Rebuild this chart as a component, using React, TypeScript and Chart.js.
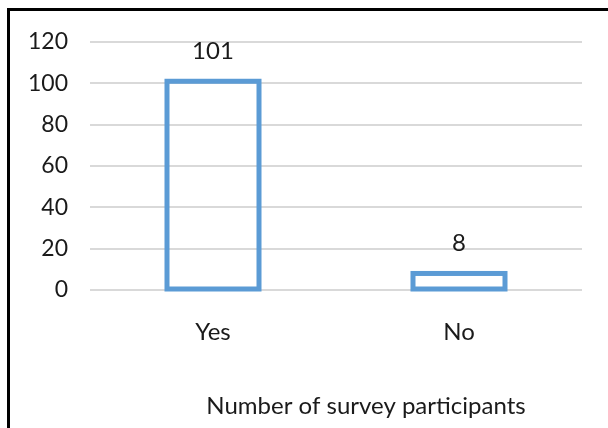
import React, { useEffect, useRef } from "react";
import { Chart, registerables } from "chart.js";

Chart.register(...registerables);

const categories = ["Yes", "No"];
const participants = [101, 8];
const yTicks = [0, 20, 40, 60, 80, 100, 120];
const axisCaption = "Number of survey participants";

const FONT = "Lato, 'Open Sans', sans-serif";
const TEXT = "#1a1a1a";
const BAR_STROKE = "#5b9bd5";

// Outline each bar with a stroke centred on its edges (hollow bars)
const hollowBars = {
  id: "hollowBars",
  afterDatasetsDraw(chart: any) {
    const ctx = chart.ctx;
    const meta = chart.getDatasetMeta(0);
    ctx.save();
    ctx.strokeStyle = BAR_STROKE;
    ctx.lineWidth = 5;
    ctx.lineJoin = "miter";
    meta.data.forEach((bar: any) => {
      const { x, y, base, width } = bar.getProps(["x", "y", "base", "width"], true);
      ctx.strokeRect(x - width / 2, y, width, base - y);
    });
    ctx.restore();
  },
};

// Value labels above each bar
const valueLabels = {
  id: "valueLabels",
  afterDatasetsDraw(chart: any) {
    const ctx = chart.ctx;
    const meta = chart.getDatasetMeta(0);
    ctx.save();
    ctx.font = `24px ${FONT}`;
    ctx.fillStyle = TEXT;
    ctx.textAlign = "center";
    ctx.textBaseline = "middle";
    meta.data.forEach((bar: any, i: number) => {
      ctx.fillText(String(participants[i]), bar.x, bar.y - 30);
    });
    ctx.restore();
  },
};

// Caption under the category axis
const captionPlugin = {
  id: "caption",
  afterDraw(chart: any) {
    const ctx = chart.ctx;
    ctx.save();
    ctx.font = `24px ${FONT}`;
    ctx.fillStyle = TEXT;
    ctx.textAlign = "center";
    ctx.textBaseline = "middle";
    ctx.fillText(axisCaption, 366, 406);
    ctx.restore();
  },
};

export default function App() {
  const ref = useRef<HTMLCanvasElement>(null);

  useEffect(() => {
    document.body.style.margin = "0";
    const chart = new Chart(ref.current!, {
      type: "bar",
      data: {
        labels: categories,
        datasets: [
          {
            data: participants,
            backgroundColor: "rgba(255,255,255,0)",
            borderWidth: 0,
            categoryPercentage: 1,
            barPercentage: 0.374,
          },
        ],
      },
      options: {
        animation: false,
        responsive: false,
        maintainAspectRatio: false,
        layout: { padding: { top: 42, right: 26, left: 0, bottom: 0 } },
        plugins: { legend: { display: false }, tooltip: { enabled: false } },
        scales: {
          x: {
            grid: { display: false, drawTicks: false },
            border: { display: false },
            ticks: { color: TEXT, font: { family: FONT, size: 24 }, padding: 28 },
            afterFit(scale: any) {
              scale.height = 138;
            },
          },
          y: {
            min: 0,
            max: 120,
            afterBuildTicks(scale: any) {
              scale.ticks = yTicks.map((v) => ({ value: v }));
            },
            grid: { color: "#d9d9d9", lineWidth: 2, drawTicks: false },
            border: { display: false },
            ticks: { color: TEXT, font: { family: FONT, size: 23 }, padding: 22 },
            afterFit(scale: any) {
              scale.width = 90;
            },
          },
        },
      },
      plugins: [hollowBars, valueLabels, captionPlugin],
    });
    return () => chart.destroy();
  }, []);

  return (
    <div style={{ position: "relative", width: 608, height: 428, overflow: "hidden", background: "#fff" }}>
      <div
        style={{
          position: "absolute",
          left: 7,
          top: 8,
          width: 640,
          height: 460,
          border: "3px solid #000",
          boxSizing: "border-box",
        }}
      />
      <canvas ref={ref} width={608} height={428} style={{ position: "absolute", left: 0, top: 0 }} />
    </div>
  );
}
